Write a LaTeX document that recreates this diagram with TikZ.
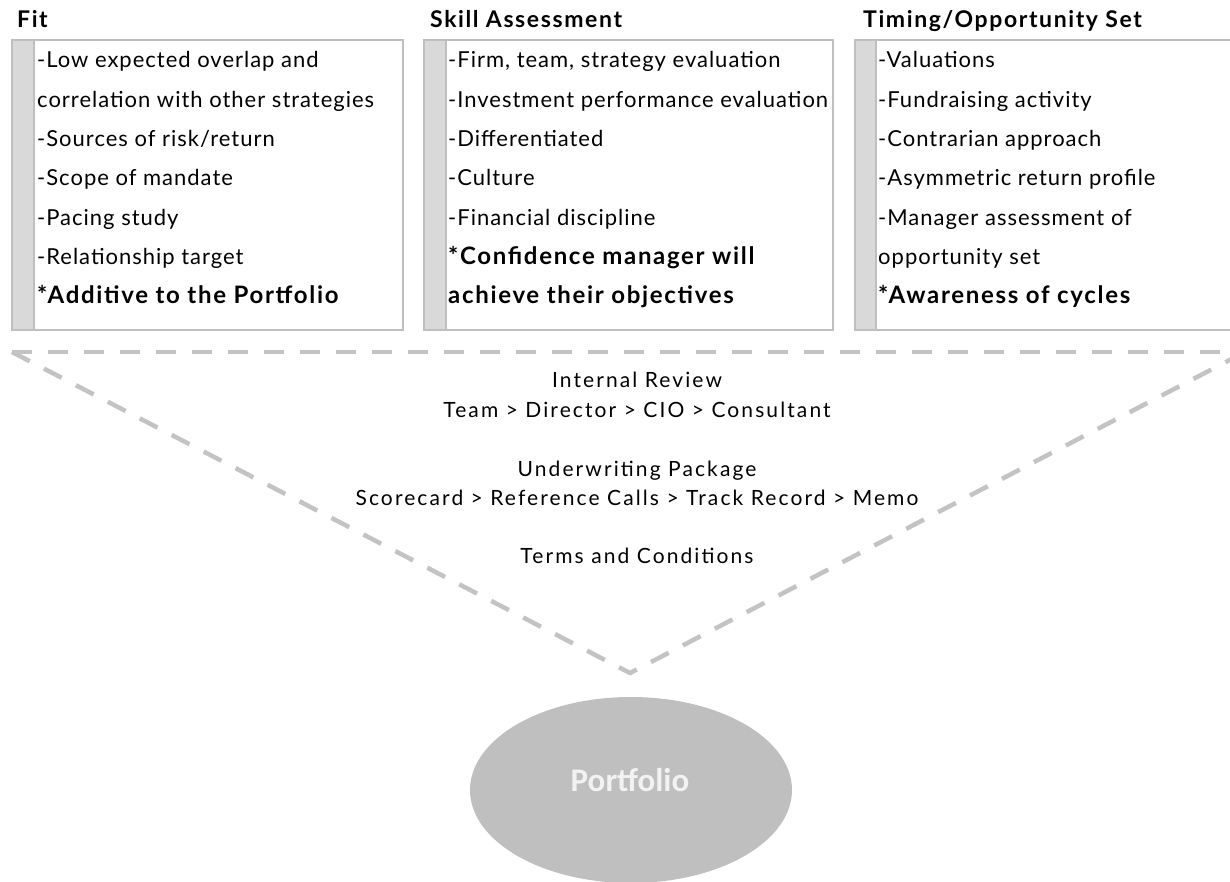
\documentclass[tikz,border=0pt]{standalone}
\usepackage{fontspec}
\setmainfont{Lato}
\newfontfamily\itemfont[LetterSpace=4.5]{Lato}
\newfontfamily\boldfont[LetterSpace=7]{Lato}
\newfontfamily\stagefont[LetterSpace=10]{Lato}
\newfontfamily\calibrifont{Carlito}
\usepackage{tikz}

\definecolor{rulegray}{HTML}{BFBFBF}
\definecolor{bargray}{HTML}{D9D9D9}
\definecolor{dashgray}{HTML}{C3C3C3}
\definecolor{ovalgray}{HTML}{BFBFBF}
\definecolor{ovaltext}{HTML}{F2F2F2}

\newcommand{\keyline}[1]{{\boldfont\bfseries\fontsize{24}{28}\selectfont #1}}

\begin{document}
\begin{tikzpicture}[x=1pt,y=-1pt]
		\tikzset{
			panel/.style = {draw = rulegray, line width = 2.5pt},
			sidebar/.style = {fill = bargray},
			head/.style = {anchor = base west, inner sep = 0pt, font = \boldfont\bfseries\fontsize{23}{27}\selectfont},
			item/.style = {anchor = base west, inner sep = 0pt, font = \itemfont\fontsize{22}{26}\selectfont},
			stage/.style = {anchor = base, inner sep = 0pt, font = \stagefont\fontsize{21}{25}\selectfont},
			funnel/.style = {dashgray, line width = 4.5pt, dash pattern = on 20pt off 16pt, line join = round},
			oval label/.style = {anchor = base, inner sep = 0pt, text = ovaltext, font = \calibrifont\bfseries\fontsize{33}{38}\selectfont}
		}
		\useasboundingbox (0,0) rectangle (1230,882);
		% three boxes with grey side bars
		\fill [sidebar] (12,40) rectangle (34,330);
		\draw [panel] (12,40) rectangle (403,330);
		\draw [panel] (34,40) -- (34,330);
		\fill [sidebar] (424,40) rectangle (446,330);
		\draw [panel] (424,40) rectangle (833,330);
		\draw [panel] (446,40) -- (446,330);
		\fill [sidebar] (855,40) rectangle (876,330);
		\draw [panel] (855,40) rectangle (1245,330);
		\draw [panel] (876,40) -- (876,330);
		% headings
		\node [head] (fit) at (17,28) {Fit};
		\node [head] (skill) at (430,28) {Skill Assessment};
		\node [head] (timing) at (863,28) {Timing/Opportunity Set};
		% bullet lines
		\foreach \txt [count = \i] in {-Low expected overlap and, correlation with other strategies, -Sources of risk/return, -Scope of mandate, -Pacing study, -Relationship target, \keyline{*Additive to the Portfolio}}
			\node [item] (fit\i) at (37,{68+39.3*(\i-1)}) {\txt};
		\foreach \txt [count = \i] in {{-Firm, team, strategy evaluation}, -Investment performance evaluation, -Differentiated, -Culture, -Financial discipline, \keyline{*Confidence manager will}, \keyline{achieve their objectives}}
			\node [item] (skill\i) at (448,{68+39.3*(\i-1)}) {\txt};
		\foreach \txt [count = \i] in {-Valuations, -Fundraising activity, -Contrarian approach, -Asymmetric return profile, -Manager assessment of, opportunity set, \keyline{*Awareness of cycles}}
			\node [item] (timing\i) at (878,{68+39.3*(\i-1)}) {\txt};
		% funnel
		\coordinate (fl) at (12,352);
		\coordinate (fr) at (1245,352);
		\coordinate (apex) at (630,673);
		\draw [funnel] (fl) -- (fr);
		\draw [funnel] (fl) -- (apex) -- (fr);
		% stages inside the funnel
		\node [stage] (review) at (637,387) {Internal Review};
		\node [stage] (chain) at (637,417) {Team > Director > CIO > Consultant};
		\node [stage] (package) at (637,476) {Underwriting Package};
		\node [stage] (docs) at (637,505) {Scorecard > Reference Calls > Track Record > Memo};
		\node [stage] (terms) at (637,563) {Terms and Conditions};
		% portfolio
		\fill [ovalgray] (631,790) ellipse [x radius = 161pt, y radius = 93pt];
		\node [oval label] (portfolio) at (630,791) {Portfolio};
\end{tikzpicture}
\end{document}
